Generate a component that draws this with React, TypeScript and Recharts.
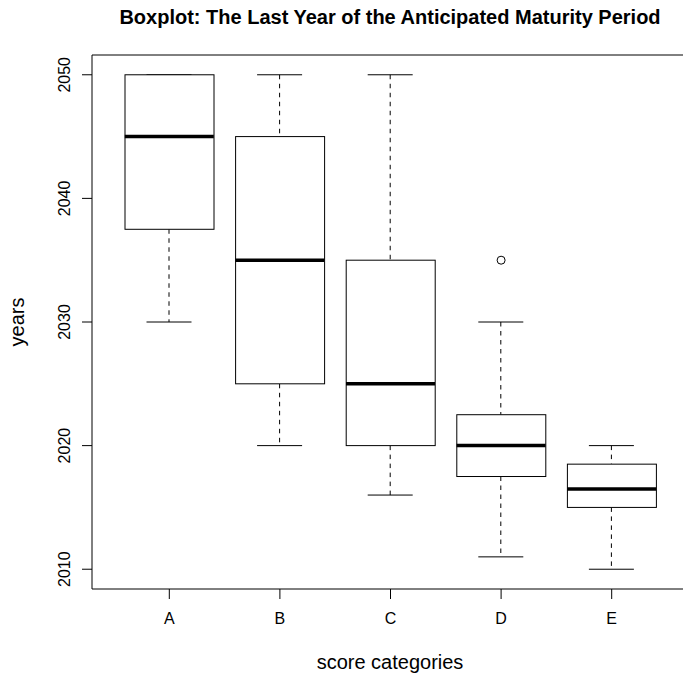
import React from "react";
import { Bar, ComposedChart, ReferenceLine, Scatter, XAxis, YAxis } from "recharts";

const categories = ["A", "B", "C", "D", "E"];
const whiskerLow = [2030, 2020, 2016, 2011, 2010];
const q1 = [2037.5, 2025, 2020, 2017.5, 2015];
const medians = [2045, 2035, 2025, 2020, 2016.5];
const q3 = [2050, 2045, 2035, 2022.5, 2018.5];
const whiskerHigh = [2050, 2050, 2050, 2030, 2020];
const outliers: (number | null)[] = [null, null, null, 2035, null];
const yTicks = [2010, 2020, 2030, 2040, 2050];
const yDomain = [2008.4, 2051.6];

const rows = categories.map((cat, i) => ({
  cat,
  low: whiskerLow[i],
  q1: q1[i],
  median: medians[i],
  q3: q3[i],
  high: whiskerHigh[i],
  outlier: outliers[i],
}));

const FONT = "'Liberation Sans', Arial, Helvetica, sans-serif";
const BOX_W = 89;
const CAP_W = 45;
const PAD = { left: 22, right: 22 };

function BoxShape(props: any) {
  const { x, y, width, height } = props;
  const top = Math.min(y, y + height);
  return <rect x={x} y={top} width={width} height={Math.abs(height)} fill="#fff" stroke="#000" strokeWidth={1} />;
}

function whisker(capAtTop: boolean) {
  return (props: any) => {
    const { x, y, width, height } = props;
    const top = Math.min(y, y + height);
    const bottom = Math.max(y, y + height);
    const cx = x + width / 2;
    const capY = capAtTop ? top : bottom;
    return (
      <g>
        <line x1={cx} x2={cx} y1={top} y2={bottom} stroke="#000" strokeDasharray="4.5 4.5" />
        <line x1={cx - CAP_W / 2} x2={cx + CAP_W / 2} y1={capY} y2={capY} stroke="#000" />
      </g>
    );
  };
}

function MedianShape(props: any) {
  const { cx, cy } = props;
  return <line x1={cx - BOX_W / 2} x2={cx + BOX_W / 2} y1={cy} y2={cy} stroke="#000" strokeWidth={3.5} />;
}

function OutlierShape(props: any) {
  const { cx, cy, payload } = props;
  if (payload == null || payload.outlier == null) return <g />;
  return <circle cx={cx} cy={cy} r={4} fill="none" stroke="#000" strokeWidth={1} />;
}

function YTick(props: any) {
  const { x, y, payload } = props;
  return (
    <text
      transform={`translate(${x},${y}) rotate(-90)`}
      textAnchor="middle"
      fontSize={16}
      fontFamily={FONT}
      fill="#000"
    >
      {payload.value}
    </text>
  );
}

export default function App() {
  return (
    <div style={{ position: "absolute", left: 0, top: 0, width: 683, height: 677, overflow: "hidden", background: "#fff" }}>
      <ComposedChart
        width={700}
        height={677}
        data={rows}
        margin={{ top: 55, right: 11, bottom: 0, left: 0 }}
        style={{ fontFamily: FONT }}
      >
        <XAxis
          xAxisId="main"
          dataKey="cat"
          type="category"
          padding={PAD}
          height={88}
          tickSize={10}
          tickMargin={14}
          stroke="#000"
          tick={{ fill: "#000", fontSize: 16, fontFamily: FONT }}
        />
        <XAxis xAxisId="box" dataKey="cat" hide height={0} padding={PAD} />
        <XAxis xAxisId="lo" dataKey="cat" hide height={0} padding={PAD} />
        <XAxis xAxisId="hi" dataKey="cat" hide height={0} padding={PAD} />
        <YAxis
          type="number"
          domain={yDomain}
          ticks={yTicks}
          allowDataOverflow
          width={92}
          tickSize={10}
          tickMargin={12}
          stroke="#000"
          tick={<YTick />}
        />

        {/* top and right sides of the frame */}
        <ReferenceLine xAxisId="main" y={yDomain[1]} stroke="#000" strokeWidth={1} ifOverflow="visible" />

        <Bar xAxisId="lo" dataKey={(d: any) => [d.low, d.q1]} barSize={2} shape={whisker(false)} isAnimationActive={false} />
        <Bar xAxisId="hi" dataKey={(d: any) => [d.q3, d.high]} barSize={2} shape={whisker(true)} isAnimationActive={false} />
        <Bar xAxisId="box" dataKey={(d: any) => [d.q1, d.q3]} barSize={BOX_W} shape={<BoxShape />} isAnimationActive={false} />
        <Scatter xAxisId="main" dataKey="median" shape={<MedianShape />} isAnimationActive={false} />
        <Scatter xAxisId="main" dataKey="outlier" shape={<OutlierShape />} isAnimationActive={false} />
      </ComposedChart>
      <svg width={683} height={677} style={{ position: "absolute", left: 0, top: 0, pointerEvents: "none" }}>
        <text x={390} y={24} textAnchor="middle" fontSize={20} fontWeight="bold" fontFamily={FONT} fill="#000">
          Boxplot: The Last Year of the Anticipated Maturity Period
        </text>
        <text x={390} y={669} textAnchor="middle" fontSize={20} fontFamily={FONT} fill="#000">
          score categories
        </text>
        <text transform="translate(24,322) rotate(-90)" textAnchor="middle" fontSize={20} fontFamily={FONT} fill="#000">
          years
        </text>
      </svg>
    </div>
  );
}
